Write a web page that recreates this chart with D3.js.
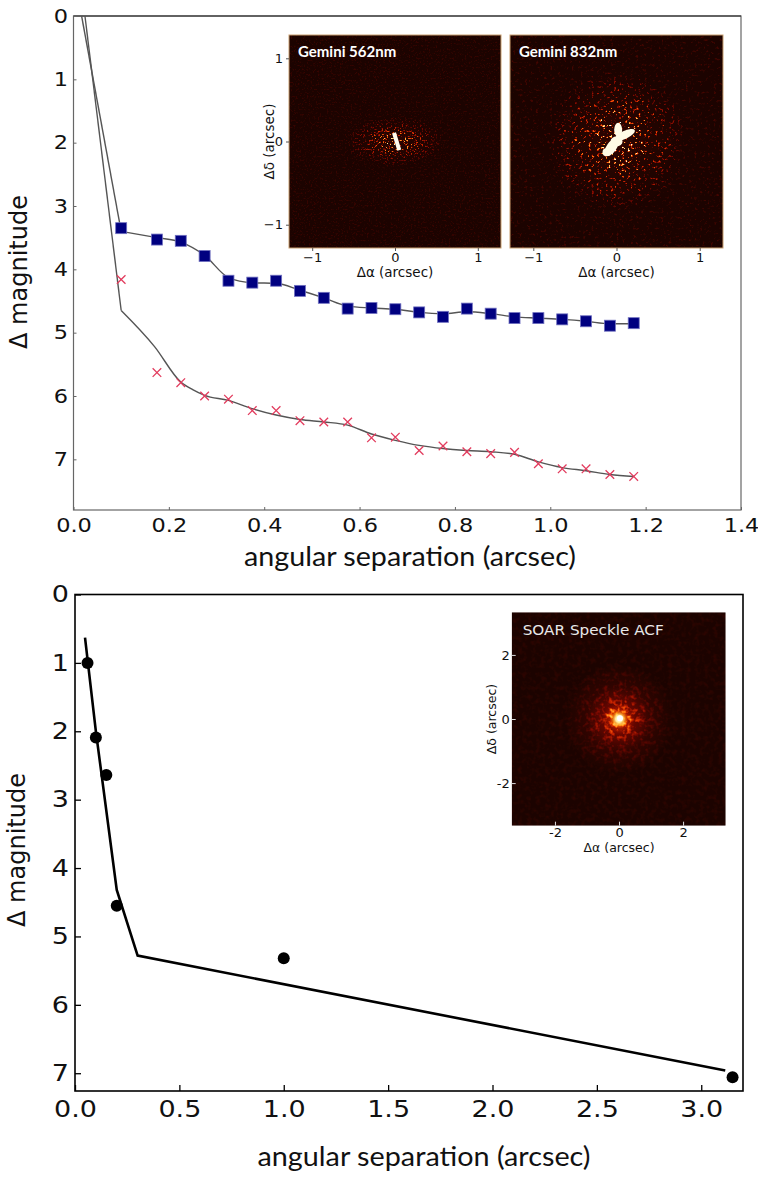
<!DOCTYPE html>
<html>
<head>
<meta charset="utf-8">
<script src="https://cdn.jsdelivr.net/npm/d3@7"></script>
<style>
  body { margin: 0; background: #fff; }
  svg { display: block; }
</style>
</head>
<body>
<div id="chart"></div>
<script>
// ---- Gemini contrast curves (top panel) ----
const gemSep = [0.1, 0.175, 0.225, 0.275, 0.325, 0.375, 0.425, 0.475, 0.525, 0.575, 0.625,
  0.675, 0.725, 0.775, 0.825, 0.875, 0.925, 0.975, 1.025, 1.075, 1.125, 1.175];
const gem562Mag = [3.35, 3.53, 3.55, 3.79, 4.18, 4.21, 4.18, 4.34, 4.45, 4.62, 4.61,
  4.63, 4.68, 4.75, 4.62, 4.70, 4.77, 4.77, 4.79, 4.82, 4.89, 4.85];
const gem832Mag = [4.16, 5.63, 5.79, 6.00, 6.05, 6.23, 6.23, 6.39, 6.41, 6.41, 6.66,
  6.65, 6.86, 6.79, 6.88, 6.91, 6.89, 7.07, 7.15, 7.15, 7.24, 7.27];

// fitted curves: steep inner drop (linear) then a smooth tail
const curve562Sep = [0.017, 0.1, 0.175, 0.225, 0.275, 0.325, 0.375, 0.425, 0.475, 0.525, 0.575, 0.625,
  0.675, 0.725, 0.775, 0.825, 0.875, 0.925, 0.975, 1.025, 1.075, 1.125, 1.175];
const curve562Mag = [0, 3.40, 3.50, 3.57, 3.78, 4.13, 4.21, 4.22, 4.33, 4.45, 4.58, 4.61,
  4.63, 4.68, 4.70, 4.67, 4.70, 4.75, 4.77, 4.79, 4.82, 4.86, 4.86];
const curve832Sep = [0.024, 0.1, 0.17, 0.225, 0.25, 0.275, 0.325, 0.375, 0.425, 0.475, 0.525, 0.575,
  0.625, 0.675, 0.725, 0.775, 0.825, 0.875, 0.925, 0.975, 1.025, 1.075, 1.125, 1.175];
const curve832Mag = [0, 4.65, 5.22, 5.78, 5.90, 5.99, 6.07, 6.20, 6.30, 6.37, 6.41, 6.46,
  6.60, 6.70, 6.78, 6.83, 6.86, 6.88, 6.92, 7.04, 7.13, 7.18, 7.24, 7.27];

const topXTicks = [0, 0.2, 0.4, 0.6, 0.8, 1.0, 1.2, 1.4];
const topYTicks = [0, 1, 2, 3, 4, 5, 6, 7];

// ---- SOAR speckle (bottom panel) ----
const soarSep = [0.06, 0.1, 0.15, 0.2, 1.0, 3.15];
const soarMag = [1.0, 2.09, 2.64, 4.55, 5.32, 7.06];
const soarCurveSep = [0.048, 0.1, 0.2, 0.3, 3.115];
const soarCurveMag = [0.63, 2.0, 4.32, 5.28, 6.96];

const botXTicks = [0, 0.5, 1.0, 1.5, 2.0, 2.5, 3.0];
const botYTicks = [0, 1, 2, 3, 4, 5, 6, 7];

// ---- inset image axes ----
const geminiInsetTicks = [-1, 0, 1];
const soarInsetTicks = [-2, 0, 2];

const W = 758;
const H = 1178;
const TICK_FONT = "DejaVu Sans";
const LABEL_FONT = "Lato";

// "hot"-like colour table for the speckle images
const HOT_R = "0.11 0.45 0.8 1 1 1 1";
const HOT_G = "0.015 0.03 0.15 0.45 0.75 0.95 1";
const HOT_B = "0 0 0 0.05 0.3 0.7 1";

const svg = d3
  .select("#chart")
  .append("svg")
  .attr("width", W)
  .attr("height", H)
  .attr("viewBox", `0 0 ${W} ${H}`)
  .style("background", "#fff");

const defs = svg.append("defs");

// k1 + k2 + k3 must stay >= 1 so the composite remains opaque
function addSpeckleFilter(id, { freq, octaves, seed, slope, intercept, k1, k2, k3 }) {
  const f = defs
    .append("filter")
    .attr("id", id)
    .attr("x", 0)
    .attr("y", 0)
    .attr("width", 1)
    .attr("height", 1)
    .attr("color-interpolation-filters", "sRGB");
  f.append("feTurbulence")
    .attr("type", "fractalNoise")
    .attr("baseFrequency", freq)
    .attr("numOctaves", octaves)
    .attr("seed", seed)
    .attr("result", "noise");
  f.append("feColorMatrix")
    .attr("in", "noise")
    .attr("type", "matrix")
    .attr("values", "1 0 0 0 0  1 0 0 0 0  1 0 0 0 0  0 0 0 0 1")
    .attr("result", "gray");
  const spots = f.append("feComponentTransfer").attr("in", "gray").attr("result", "spots");
  ["feFuncR", "feFuncG", "feFuncB"].forEach((fn) =>
    spots.append(fn).attr("type", "linear").attr("slope", slope).attr("intercept", intercept),
  );
  f.append("feComposite")
    .attr("in", "spots")
    .attr("in2", "SourceGraphic")
    .attr("operator", "arithmetic")
    .attr("k1", k1)
    .attr("k2", k2)
    .attr("k3", k3)
    .attr("k4", 0)
    .attr("result", "lum");
  const hot = f.append("feComponentTransfer").attr("in", "lum");
  hot.append("feFuncR").attr("type", "table").attr("tableValues", HOT_R);
  hot.append("feFuncG").attr("type", "table").attr("tableValues", HOT_G);
  hot.append("feFuncB").attr("type", "table").attr("tableValues", HOT_B);
}

function addGradient(id, stops) {
  const g = defs.append("radialGradient").attr("id", id);
  stops.forEach(([o, v]) => {
    const c = Math.round(v * 255);
    g.append("stop").attr("offset", o).attr("stop-color", `rgb(${c},${c},${c})`);
  });
}

addSpeckleFilter("sp562", { freq: 0.55, octaves: 2, seed: 5, slope: 6, intercept: -3.4, k1: 1.0, k2: 0.05, k3: 0.03 });
addSpeckleFilter("sp832", { freq: 0.36, octaves: 2, seed: 11, slope: 5, intercept: -3.0, k1: 1.4, k2: 0.08, k3: 0.04 });
addSpeckleFilter("spSoar", { freq: 0.22, octaves: 2, seed: 3, slope: 3.0, intercept: -1.4, k1: 0.65, k2: 0.03, k3: 0.4 });

addGradient("env562", [[0, 1], [0.25, 0.6], [0.6, 0.22], [1, 0]]);
addGradient("env832", [[0, 1], [0.2, 0.7], [0.55, 0.3], [1, 0]]);
addGradient("envSoar", [[0, 1], [0.12, 0.72], [0.3, 0.34], [0.6, 0.1], [1, 0]]);

const core = defs.append("radialGradient").attr("id", "soarCore");
core.append("stop").attr("offset", 0).attr("stop-color", "#ffffff").attr("stop-opacity", 1);
core.append("stop").attr("offset", 0.35).attr("stop-color", "#fff2a0").attr("stop-opacity", 1);
core.append("stop").attr("offset", 0.7).attr("stop-color", "#ff9a10").attr("stop-opacity", 0.55);
core.append("stop").attr("offset", 1).attr("stop-color", "#ff5000").attr("stop-opacity", 0);

defs.append("filter").attr("id", "soft").append("feGaussianBlur").attr("stdDeviation", 0.6);

function styleAxis(g, { color, size, fontSize, stretch }) {
  g.select(".domain").remove();
  g.selectAll(".tick line").attr("stroke", color).attr("stroke-width", size);
  g.selectAll(".tick text")
    .attr("font-family", TICK_FONT)
    .attr("font-size", fontSize)
    .attr("fill", "#111")
    .attr("transform", stretch ? `scale(${stretch},1)` : null);
}

// ================= TOP PANEL =================
const xTop = d3.scaleLinear().domain([0, 1.4]).range([73.5, 741]);
const yTop = d3.scaleLinear().domain([0, 7.8]).range([16, 510]);

const gTop = svg.append("g").attr("class", "top-panel");

gTop
  .append("rect")
  .attr("x", xTop(0))
  .attr("y", yTop(0))
  .attr("width", xTop(1.4) - xTop(0))
  .attr("height", yTop(7.8) - yTop(0))
  .attr("fill", "none")
  .attr("stroke", "#666")
  .attr("stroke-width", 1.2);
gTop
  .append("line")
  .attr("x1", xTop(0))
  .attr("x2", xTop(1.4))
  .attr("y1", yTop(0))
  .attr("y2", yTop(0))
  .attr("stroke", "#222")
  .attr("stroke-width", 1.2);

gTop
  .append("g")
  .attr("transform", `translate(0,${yTop(7.8)})`)
  .call(d3.axisBottom(xTop).tickValues(topXTicks).tickFormat(d3.format(".1f")).tickSize(-3).tickSizeOuter(0).tickPadding(8))
  .call(styleAxis, { color: "#666", size: 1, fontSize: 19.5, stretch: 1.15 });

gTop
  .append("g")
  .attr("transform", `translate(${xTop(0)},0)`)
  .call(d3.axisLeft(yTop).tickValues(topYTicks).tickFormat(d3.format("d")).tickSize(-3).tickSizeOuter(0).tickPadding(4.8))
  .call(styleAxis, { color: "#666", size: 1, fontSize: 19.5, stretch: 1.15 });

gTop
  .append("text")
  .attr("x", 410)
  .attr("y", 566)
  .attr("text-anchor", "middle")
  .attr("font-family", LABEL_FONT)
  .attr("font-size", 26)
  .attr("textLength", 332)
  .attr("lengthAdjust", "spacingAndGlyphs")
  .attr("fill", "#111")
  .text("angular separation (arcsec)");

gTop
  .append("text")
  .attr("transform", "translate(27,272) rotate(-90)")
  .attr("text-anchor", "middle")
  .attr("font-family", TICK_FONT)
  .attr("font-size", 24)
  .attr("fill", "#111")
  .text("Δ magnitude");

const lineTop = d3
  .line()
  .x((d) => xTop(d[0]))
  .y((d) => yTop(d[1]));

function drawCurve(sepArr, magArr) {
  const pts = sepArr.map((s, i) => [s, magArr[i]]);
  gTop
    .append("path")
    .attr("d", lineTop.curve(d3.curveLinear)(pts.slice(0, 2)))
    .attr("fill", "none")
    .attr("stroke", "#555")
    .attr("stroke-width", 1.4);
  gTop
    .append("path")
    .attr("d", lineTop.curve(d3.curveMonotoneX)(pts.slice(1)))
    .attr("fill", "none")
    .attr("stroke", "#555")
    .attr("stroke-width", 1.4);
}

drawCurve(curve562Sep, curve562Mag);
drawCurve(curve832Sep, curve832Mag);

const SQ = 11;
gTop
  .selectAll("rect.sq")
  .data(gemSep.map((s, i) => [s, gem562Mag[i]]))
  .join("rect")
  .attr("class", "sq")
  .attr("x", (d) => xTop(d[0]) - SQ / 2)
  .attr("y", (d) => yTop(d[1]) - SQ / 2)
  .attr("width", SQ)
  .attr("height", SQ)
  .attr("fill", "#000080")
  .attr("stroke", "#7070c0")
  .attr("stroke-width", 0.8);

const CX = 4.3;
gTop
  .selectAll("path.cross")
  .data(gemSep.map((s, i) => [s, gem832Mag[i]]))
  .join("path")
  .attr("class", "cross")
  .attr("transform", (d) => `translate(${xTop(d[0])},${yTop(d[1])})`)
  .attr("d", `M${-CX},${-CX}L${CX},${CX}M${-CX},${CX}L${CX},${-CX}`)
  .attr("fill", "none")
  .attr("stroke", "#e23c5e")
  .attr("stroke-width", 1.3);

// ---- Gemini inset images ----
const imgExtent = [-1.28, 1.28];

function geminiInset({ x0, x1, y0, y1, filterId, gradId, envR, label, showY, drawCore }) {
  const sx = d3.scaleLinear().domain(imgExtent).range([x0, x1]);
  const sy = d3.scaleLinear().domain(imgExtent).range([y1, y0]);
  const g = svg.append("g");
  const clipId = `clip-${filterId}`;
  defs
    .append("clipPath")
    .attr("id", clipId)
    .append("rect")
    .attr("x", sx(imgExtent[0]))
    .attr("y", sy(imgExtent[1]))
    .attr("width", sx(imgExtent[1]) - sx(imgExtent[0]))
    .attr("height", sy(imgExtent[0]) - sy(imgExtent[1]));

  const img = g.append("g").attr("clip-path", `url(#${clipId})`);
  const env = img.append("g").attr("filter", `url(#${filterId})`);
  env
    .append("rect")
    .attr("x", sx(imgExtent[0]))
    .attr("y", sy(imgExtent[1]))
    .attr("width", sx(imgExtent[1]) - sx(imgExtent[0]))
    .attr("height", sy(imgExtent[0]) - sy(imgExtent[1]))
    .attr("fill", "#000");
  env
    .append("ellipse")
    .attr("cx", sx(0))
    .attr("cy", sy(0))
    .attr("rx", sx(envR[0]) - sx(0))
    .attr("ry", sy(0) - sy(envR[1]))
    .attr("fill", `url(#${gradId})`);
  drawCore(img.append("g").attr("filter", "url(#soft)"), sx, sy);

  g.append("rect")
    .attr("x", sx(imgExtent[0]))
    .attr("y", sy(imgExtent[1]))
    .attr("width", sx(imgExtent[1]) - sx(imgExtent[0]))
    .attr("height", sy(imgExtent[0]) - sy(imgExtent[1]))
    .attr("fill", "none")
    .attr("stroke", "#c9a070")
    .attr("stroke-width", 1);

  g.append("text")
    .attr("x", sx(imgExtent[0]) + 9)
    .attr("y", sy(imgExtent[1]) + 22)
    .attr("font-family", LABEL_FONT)
    .attr("font-weight", 700)
    .attr("font-size", 15)
    .attr("fill", "#fff")
    .text(label);

  const fmt = (d) => (d < 0 ? `\u2212${-d}` : `${d}`);
  g.append("g")
    .attr("transform", `translate(0,${sy(imgExtent[0])})`)
    .call(d3.axisBottom(sx).tickValues(geminiInsetTicks).tickFormat(fmt).tickSize(3).tickSizeOuter(0).tickPadding(1.5))
    .call(styleAxis, { color: "#555", size: 1, fontSize: 13 });
  g.append("text")
    .attr("x", sx(0))
    .attr("y", sy(imgExtent[0]) + 29)
    .attr("text-anchor", "middle")
    .attr("font-family", TICK_FONT)
    .attr("font-size", 13.5)
    .attr("fill", "#111")
    .text("Δα (arcsec)");

  if (showY) {
    g.append("g")
      .attr("transform", `translate(${sx(imgExtent[0])},0)`)
      .call(d3.axisLeft(sy).tickValues(geminiInsetTicks).tickFormat(fmt).tickSize(3).tickSizeOuter(0).tickPadding(3))
      .call(styleAxis, { color: "#555", size: 1, fontSize: 13 });
    g.append("text")
      .attr("transform", `translate(${sx(imgExtent[0]) - 15},${sy(0)}) rotate(-90)`)
      .attr("text-anchor", "middle")
      .attr("font-family", TICK_FONT)
      .attr("font-size", 13.5)
      .attr("fill", "#111")
      .text("Δδ (arcsec)");
  }
}

geminiInset({
  x0: 289,
  x1: 501,
  y0: 35,
  y1: 248,
  filterId: "sp562",
  gradId: "env562",
  envR: [0.6, 0.3],
  label: "Gemini 562nm",
  showY: true,
  drawCore: (g, sx, sy) => {
    g.append("rect")
      .attr("x", sx(0.02) - 2)
      .attr("y", sy(0) - 9)
      .attr("width", 4)
      .attr("height", 18)
      .attr("fill", "#fffdf0")
      .attr("transform", `rotate(-17,${sx(0.02)},${sy(0)})`);
  },
});

geminiInset({
  x0: 510,
  x1: 723,
  y0: 35,
  y1: 248,
  filterId: "sp832",
  gradId: "env832",
  envR: [0.85, 0.85],
  label: "Gemini 832nm",
  showY: false,
  drawCore: (g, sx, sy) => {
    const blobs = [
      [0.1, 0.08, 11, 4, -25],
      [0.02, 0.14, 4, 7, 0],
      [-0.06, -0.07, 10, 5, -55],
      [0.0, 0.0, 6, 5, 0],
      [-0.12, -0.13, 4, 4, 0],
    ];
    g.selectAll("ellipse")
      .data(blobs)
      .join("ellipse")
      .attr("cx", (d) => sx(d[0]))
      .attr("cy", (d) => sy(d[1]))
      .attr("rx", (d) => d[2])
      .attr("ry", (d) => d[3])
      .attr("transform", (d) => `rotate(${d[4]},${sx(d[0])},${sy(d[1])})`)
      .attr("fill", "#fffbe6");
  },
});

// ================= BOTTOM PANEL =================
const xBot = d3.scaleLinear().domain([0, 3.2]).range([75, 743]);
const yBot = d3.scaleLinear().domain([0, 7.26]).range([594.5, 1091]);

const gBot = svg.append("g").attr("class", "bottom-panel");

gBot
  .append("rect")
  .attr("x", xBot(0))
  .attr("y", yBot(0))
  .attr("width", xBot(3.2) - xBot(0))
  .attr("height", yBot(7.26) - yBot(0))
  .attr("fill", "none")
  .attr("stroke", "#000")
  .attr("stroke-width", 1.6);

gBot
  .append("g")
  .attr("transform", `translate(0,${yBot(7.26)})`)
  .call(d3.axisBottom(xBot).tickValues(botXTicks).tickFormat(d3.format(".1f")).tickSize(-6).tickSizeOuter(0).tickPadding(10.5))
  .call(styleAxis, { color: "#000", size: 1.3, fontSize: 22.5, stretch: 1.2 });

gBot
  .append("g")
  .attr("transform", `translate(${xBot(0)},0)`)
  .call(d3.axisLeft(yBot).tickValues(botYTicks).tickFormat(d3.format("d")).tickSize(-6).tickSizeOuter(0).tickPadding(5))
  .call(styleAxis, { color: "#000", size: 1.3, fontSize: 22.5, stretch: 1.2 });

gBot
  .append("text")
  .attr("x", 424)
  .attr("y", 1166)
  .attr("text-anchor", "middle")
  .attr("font-family", LABEL_FONT)
  .attr("font-size", 26)
  .attr("textLength", 333)
  .attr("lengthAdjust", "spacingAndGlyphs")
  .attr("fill", "#111")
  .text("angular separation (arcsec)");

gBot
  .append("text")
  .attr("transform", "translate(25,850) rotate(-90)")
  .attr("text-anchor", "middle")
  .attr("font-family", TICK_FONT)
  .attr("font-size", 24)
  .attr("fill", "#111")
  .text("Δ magnitude");

gBot
  .append("path")
  .attr(
    "d",
    d3
      .line()
      .x((d) => xBot(d[0]))
      .y((d) => yBot(d[1]))(soarCurveSep.map((s, i) => [s, soarCurveMag[i]])),
  )
  .attr("fill", "none")
  .attr("stroke", "#000")
  .attr("stroke-width", 2.6);

gBot
  .selectAll("circle.pt")
  .data(soarSep.map((s, i) => [s, soarMag[i]]))
  .join("circle")
  .attr("class", "pt")
  .attr("cx", (d) => xBot(d[0]))
  .attr("cy", (d) => yBot(d[1]))
  .attr("r", 6)
  .attr("fill", "#000");

// ---- SOAR inset image ----
{
  const ext = [-3.35, 3.33];
  const sx = d3.scaleLinear().domain(ext).range([511.7, 725.7]);
  const sy = d3.scaleLinear().domain([-3.33, 3.33]).range([825.7, 612.3]);
  const g = svg.append("g");
  defs
    .append("clipPath")
    .attr("id", "clip-soar")
    .append("rect")
    .attr("x", sx(ext[0]))
    .attr("y", sy(3.33))
    .attr("width", sx(ext[1]) - sx(ext[0]))
    .attr("height", sy(-3.33) - sy(3.33));
  const img = g.append("g").attr("clip-path", "url(#clip-soar)");
  const env = img.append("g").attr("filter", "url(#spSoar)");
  env
    .append("rect")
    .attr("x", sx(ext[0]))
    .attr("y", sy(3.33))
    .attr("width", sx(ext[1]) - sx(ext[0]))
    .attr("height", sy(-3.33) - sy(3.33))
    .attr("fill", "#000");
  env
    .append("circle")
    .attr("cx", sx(0))
    .attr("cy", sy(0))
    .attr("r", sx(1.7) - sx(0))
    .attr("fill", "url(#envSoar)");
  img
    .append("circle")
    .attr("cx", sx(0))
    .attr("cy", sy(0))
    .attr("r", sx(0.3) - sx(0))
    .attr("fill", "url(#soarCore)");
  img
    .append("circle")
    .attr("cx", sx(0.03))
    .attr("cy", sy(0.02))
    .attr("r", 3)
    .attr("fill", "#fff");

  g.append("text")
    .attr("x", sx(ext[0]) + 11)
    .attr("y", sy(3.33) + 23)
    .attr("font-family", TICK_FONT)
    .attr("font-size", 14)
    .attr("textLength", 141)
    .attr("lengthAdjust", "spacingAndGlyphs")
    .attr("fill", "#e8e8e8")
    .text("SOAR Speckle ACF");

  g.append("g")
    .attr("transform", `translate(0,${sy(-3.33)})`)
    .call(d3.axisBottom(sx).tickValues(soarInsetTicks).tickSize(-4).tickSizeOuter(0).tickPadding(2.5))
    .call(styleAxis, { color: "#ddd", size: 1, fontSize: 13 });
  g.append("g")
    .attr("transform", `translate(${sx(ext[0])},0)`)
    .call(d3.axisLeft(sy).tickValues(soarInsetTicks).tickSize(-4).tickSizeOuter(0).tickPadding(2))
    .call(styleAxis, { color: "#ddd", size: 1, fontSize: 13 });
  // the source prints a plain hyphen for negative ticks
  g.selectAll(".tick text").text((d) => `${d}`);

  g.append("text")
    .attr("x", sx(0))
    .attr("y", 852)
    .attr("text-anchor", "middle")
    .attr("font-family", TICK_FONT)
    .attr("font-size", 12.5)
    .attr("fill", "#111")
    .text("Δα (arcsec)");
  g.append("text")
    .attr("transform", `translate(496,${sy(0)}) rotate(-90)`)
    .attr("text-anchor", "middle")
    .attr("font-family", TICK_FONT)
    .attr("font-size", 12.5)
    .attr("fill", "#111")
    .text("Δδ (arcsec)");
}
</script>
</body>
</html>
